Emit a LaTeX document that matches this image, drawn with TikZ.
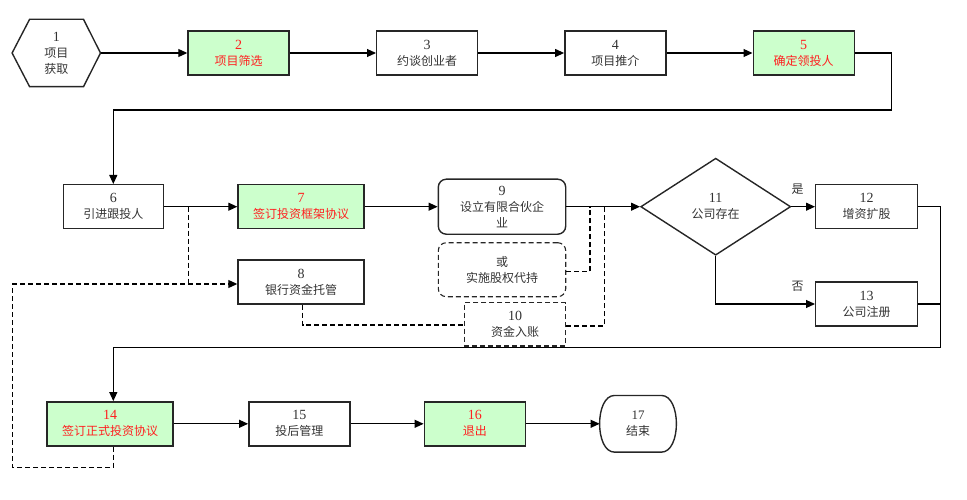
\documentclass[tikz,border=0pt]{standalone}
\usepackage{fontspec}
\setmainfont{Liberation Serif}
\newfontfamily\cjk{Noto Sans CJK SC}
\usetikzlibrary{arrows.meta,shapes.geometric}
\definecolor{hlgreen}{HTML}{CCFFCC}
\definecolor{hlred}{HTML}{FF2020}
\newcommand\nlab[2]{{\fontsize{14}{16}\selectfont #1}\\{\cjk #2}}
\begin{document}
\begin{tikzpicture}[x=1pt,y=-1pt,
  box/.style={draw=black!85, line width=1.4pt, minimum width=101pt, minimum height=44pt,
    inner sep=0pt, align=center, font=\fontsize{12}{16}\selectfont, text=black!80},
  hl/.style={box, fill=hlgreen, text=hlred},
  wide/.style={minimum width=126pt},
  conn/.style={line width=1.1pt, -{Triangle[length=9pt,width=8pt]}},
  lnk/.style={line width=1.1pt},
  dlink/.style={line width=1.1pt, dash pattern=on 5pt off 3pt},
  dconn/.style={dlink, -{Triangle[length=9pt,width=8pt]}},
  lbl/.style={font=\cjk\fontsize{12}{14}\selectfont, inner sep=0pt, text=black!80}
]
\useasboundingbox (0,0) rectangle (967,500);

% row 1
\node[box, draw=none, minimum width=87pt, minimum height=66pt] (n1) at (56.3,53) {{\fontsize{14}{16}\selectfont 1}\\{\cjk 项目}\\{\cjk 获取}};
\draw[draw=black!85, line width=1.4pt] (n1.west) -- ([xshift=17.5pt]n1.north west) -- ([xshift=-17pt]n1.north east)
  -- (n1.east) -- ([xshift=-17pt]n1.south east) -- ([xshift=17.5pt]n1.south west) -- cycle;
\node[hl] (n2) at (238.5,53) {\nlab{2}{项目筛选}};
\node[box] (n3) at (427.2,53) {\nlab{3}{约谈创业者}};
\node[box] (n4) at (615.3,53) {\nlab{4}{项目推介}};
\node[hl] (n5) at (803.7,53) {\nlab{5}{确定领投人}};

% row 2
\node[box, minimum width=100pt] (n6) at (113.3,206.7) {\nlab{6}{引进跟投人}};
\node[hl, wide] (n7) at (301,206.7) {\nlab{7}{签订投资框架协议}};
\node[box, minimum width=127.4pt, minimum height=55pt, rounded corners=8pt] (n9) at (502,206.7) {\nlab{9}{设立有限合伙企}\\{\cjk 业}};
\node[draw=black!85, line width=1.4pt, diamond, minimum width=150pt, minimum height=97pt, aspect=1.55,
  inner sep=0pt, align=center, font=\fontsize{12}{16}\selectfont, text=black!80] (n11) at (715.7,206.7) {\nlab{11}{公司存在}};
\node[box, minimum width=101.6pt] (n12) at (866.5,206.7) {\nlab{12}{增资扩股}};
\node[box, wide] (n8) at (301,282) {\nlab{8}{银行资金托管}};
\node[box, minimum width=127.4pt, minimum height=54pt, rounded corners=8pt, dash pattern=on 5pt off 3pt, line width=1.1pt] (nor) at (502,269.7) {{\cjk 或}\\{\cjk 实施股权代持}};
\node[box, minimum width=101.4pt, minimum height=43.3pt, dash pattern=on 5pt off 3pt, line width=1.1pt] (n10) at (515,324.3) {\nlab{10}{资金入账}};
\node[box, minimum width=101.6pt] (n13) at (866.5,304) {\nlab{13}{公司注册}};

% labels
\node[lbl] (lyes) at (797.7,189.3) {是};
\node[lbl] (lno) at (797.7,286.7) {否};

% row 3
\node[hl, wide] (n14) at (110,423.8) {\nlab{14}{签订正式投资协议}};
\node[box] (n15) at (299.3,423.8) {\nlab{15}{投后管理}};
\node[hl] (n16) at (474.8,423.8) {\nlab{16}{退出}};
\node[box, draw=none, minimum width=75.4pt, minimum height=55.3pt] (n17) at (638,423.8) {{\fontsize{13}{16}\selectfont 17}\\{\cjk 结束}};
\draw[draw=black!85, line width=1.4pt]
  ([xshift=15pt]n17.north west) -- ([xshift=-15pt]n17.north east)
  .. controls ([xshift=5pt]n17.north east) and ([xshift=5pt]n17.south east) .. ([xshift=-15pt]n17.south east)
  -- ([xshift=15pt]n17.south west)
  .. controls ([xshift=-5pt]n17.south west) and ([xshift=-5pt]n17.north west) .. ([xshift=15pt]n17.north west) -- cycle;

% coordinates
\coordinate (c5a) at (891.7,53);
\coordinate (c5b) at (891.7,110);
\coordinate (c5c) at (113.3,110);
\coordinate (j6) at (188.3,206.7);
\coordinate (j8) at (188.3,284);
\coordinate (l8) at (12.7,284);
\coordinate (l14) at (12.7,467.3);
\coordinate (b14) at (113.3,467.3);
\coordinate (t14) at (113.3,347.3);
\coordinate (r12) at (940.7,206.7);
\coordinate (r13) at (940.7,347.3);
\coordinate (d11) at (715.7,304);
\coordinate (s8) at (302.7,325);
\coordinate (or1) at (590,271.7);
\coordinate (or2) at (590,206.7);
\coordinate (te1) at (604.3,326);
\coordinate (te2) at (604.3,206.7);

% row 1 connectors
\draw[conn] (n1.east) -- (n2.west);
\draw[conn] (n2) -- (n3);
\draw[conn] (n3) -- (n4);
\draw[conn] (n4) -- (n5);
\draw[conn] (n5.east) -- (c5a) -- (c5b) -- (c5c) -- (n6.north);

% row 2 connectors
\draw[conn] (n6) -- (n7);
\draw[conn] (n7) -- (n9);
\draw[conn] (n9) -- (n11);
\draw[conn] (n11) -- (n12);
\draw[conn] (n11.south) -- (d11) -- (n13.west);
\draw[lnk] (n12.east) -- (r12) -- (r13) -- (t14);
\draw[lnk] (n13.east) -- (n13.east -| r12);
\draw[conn] (t14) -- (t14 |- n14.north);

% dashed connectors
\draw[dlink] (j6) -- (j8);
\draw[dconn] (b14 |- n14.south) -- (b14) -- (l14) -- (l8) -- (n8.west |- l8);
\draw[dlink] (s8 |- n8.south) -- (s8) -- (n10.west |- s8);
\draw[dlink] (nor.east |- or1) -- (or1) -- (or2);
\draw[dlink] (n10.east |- te1) -- (te1) -- (te2);

% row 3 connectors
\draw[conn] (n14) -- (n15);
\draw[conn] (n15) -- (n16);
\draw[conn] (n16) -- (n17.west);
\end{tikzpicture}
\end{document}
